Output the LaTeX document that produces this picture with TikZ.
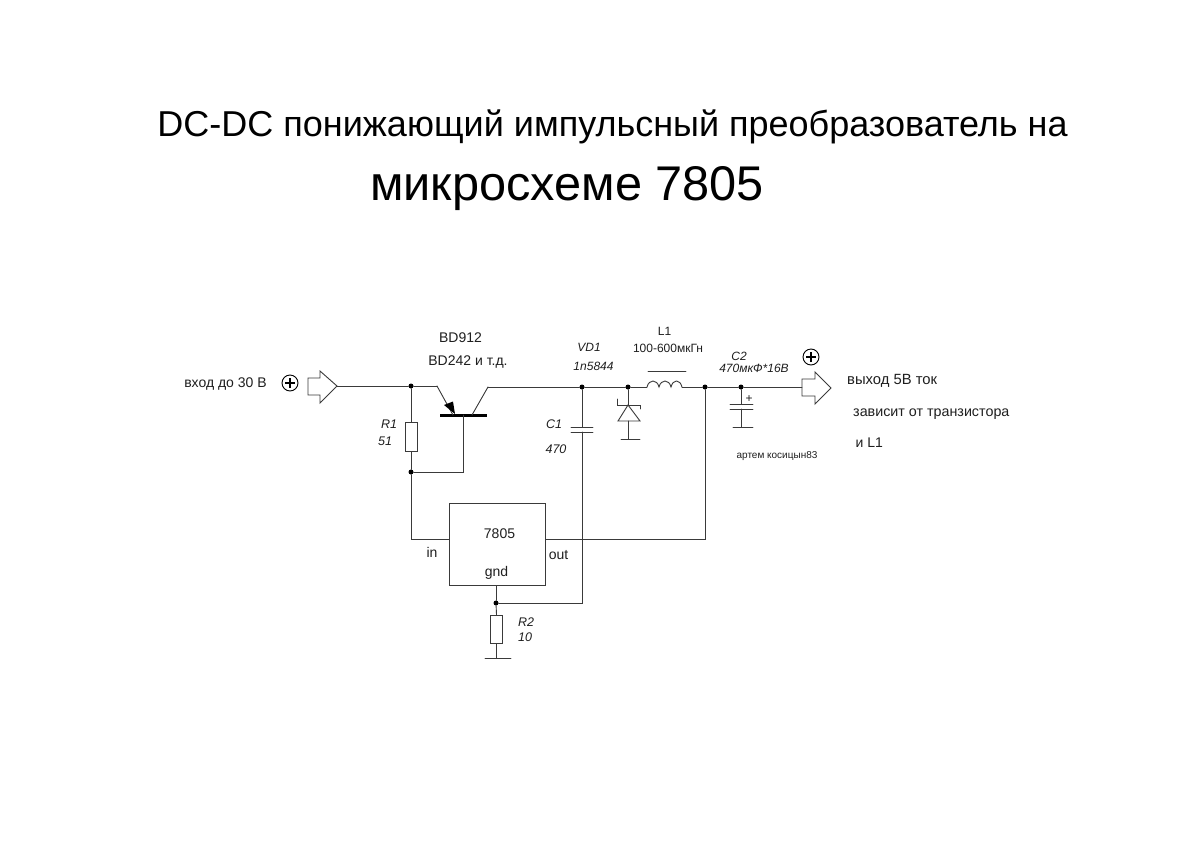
\documentclass[tikz,border=0pt]{standalone}
\usepackage{fontspec}
\setmainfont{Liberation Sans}
\definecolor{wirec}{HTML}{3A3A3A}
\tikzset{
  wire/.style={draw=wirec,line width=0.9pt,line cap=round,line join=miter},
  dotnode/.style={circle,fill=black,inner sep=0pt,minimum size=5pt},
  resbox/.style={draw=wirec,line width=0.9pt,minimum width=12pt,minimum height=29pt,inner sep=0pt,fill=white},
  icbox/.style={draw=wirec,line width=0.9pt,minimum width=96pt,minimum height=82pt,inner sep=0pt},
  plus/.style={circle,draw=black,line width=0.9pt,minimum size=16pt,inner sep=0pt,path picture={\draw[line width=1.3pt] (path picture bounding box.center) ++(-5pt,0) -- ++(10pt,0) (path picture bounding box.center) ++(0,-5pt) -- ++(0,10pt);}},
  lbl/.style={inner sep=0pt,font=\fontsize{14}{16}\selectfont,text=black!88},
  ilbl/.style={inner sep=0pt,font=\fontsize{12.5}{14}\selectfont\itshape,text=black!88},
  vlbl/.style={inner sep=0pt,font=\fontsize{12}{14}\selectfont\itshape,text=black!88},
  slbl/.style={inner sep=0pt,font=\fontsize{12}{14}\selectfont,text=black!88},
}
\begin{document}
\begin{tikzpicture}[x=1pt,y=-1pt]
\path[fill=white] (0,0) rectangle (1200,849);
\useasboundingbox (0,0) rectangle (1200,849);
% titles
\node[anchor=center,inner sep=0pt,font=\fontsize{36}{40}\selectfont] (t1) at (612.5,126.5) {DC-DC понижающий импульсный преобразователь на};
\node[anchor=center,inner sep=0pt,font=\fontsize{48.7}{54}\selectfont] (t2) at (567,188.5) {микросхеме 7805};
% junctions
\node[dotnode] (ja) at (411,386) {};
\node[dotnode] (jb) at (411,472) {};
\node[dotnode] (jc) at (582,387) {};
\node[dotnode] (jd) at (628,387) {};
\node[dotnode] (je) at (705,387) {};
\node[dotnode] (jf) at (741,387) {};
\node[dotnode] (jg) at (496,603) {};
% components
\node[resbox] (r1) at (411,436.5) {};
\node[resbox,minimum height=28pt] (r2) at (496.5,629) {};
\node[icbox] (ic) at (497,544) {};
\node[plus] (pin) at (290,383) {};
\node[plus] (pout) at (811,357) {};
% input arrow
\coordinate (intip) at (337,386);
\draw[wire] (intip) -- (320,371) -- (320,378) -- (308,378) -- (308,395) -- (320,395) -- (320,403) -- cycle;
% output arrow
\coordinate (outtail) at (802,387);
\draw[wire] (831,388) -- (815,372) -- (815,379) -- (802,379) -- (802,396) -- (815,396) -- (815,404) -- cycle;
% transistor
\coordinate (emi) at (437,386);
\coordinate (emb) at (453,415);
\coordinate (col) at (488,387);
\coordinate (colb) at (472,415);
\coordinate (base) at (463,415);
\coordinate (basel) at (440,415);
\coordinate (baser) at (487,415);
\draw[line width=3pt,black] (basel) -- (baser);
\draw[wire] (emi) -- (emb);
\fill[black] (455,414) -- (444,405) -- (453,401.5) -- cycle;
\draw[wire] (colb) -- (col);
\draw[wire] (intip) -- (ja);
\draw[wire] (ja) -- (emi);
\draw[wire] (ja) -- (r1.north);
\draw[wire] (r1.south) -- (jb);
\draw[wire] (base) |- (jb);
\draw[wire] (jb) |- (ic.west |- 0,539);
\draw[wire] (col) -- (jc);
\draw[wire] (jc) -- (jd);
% C1
\coordinate (c1a) at (582,427);
\coordinate (c1b) at (582,432);
\draw[wire] (jc) -- (c1a);
\draw[wire] (571,427) -- (593,427);
\draw[wire] (571,432) -- (593,432);
\draw[wire] (c1b) -- (582,603) -- (jg);
% diode
\coordinate (dk) at (628,405);
\coordinate (da) at (628,421);
\coordinate (dg) at (628,439);
\draw[wire] (jd) -- (dk);
\draw[wire] (617,399) -- (617,405) -- (640,405) -- (640,409);
\draw[wire] (dk) -- (618,421) -- (640,421) -- cycle;
\draw[wire] (da) -- (dg);
\draw[wire] (621,439) -- (640,439);
% inductor
\coordinate (la) at (647,387);
\coordinate (lb) at (682,387);
\draw[wire] (jd) -- (la);
\draw[wire] (la) .. controls (649,379) and (657,379) .. (659,387)
  .. controls (661,379) and (669,379) .. (671,387)
  .. controls (673,379) and (680,379) .. (lb);
\draw[wire] (lb) -- (je);
\draw[wire] (648,371) -- (686,371);
\draw[wire] (je) -- (jf);
\draw[wire] (jf) -- (outtail);
% C2
\coordinate (c2a) at (741,404);
\coordinate (c2b) at (741,409);
\coordinate (c2g) at (741,427);
\draw[wire] (jf) -- (c2a);
\draw[wire] (730,404) -- (753,404);
\draw[wire] (730,409) -- (753,409);
\draw[wire] (c2b) -- (c2g);
\draw[wire] (733,427) -- (753,427);
% out wire
\draw[wire] (ic.east |- 0,539) -| (je);
% gnd
\draw[wire] (ic.south -| jg) -- (jg);
\draw[wire] (jg) -- (r2.north);
\coordinate (gnd) at (496.5,658);
\draw[wire] (r2.south) -- (gnd);
\draw[wire] (485,658) -- (511,658);
% labels
\node[lbl] (l1) at (225.5,384) {вход до 30 В};
\node[lbl] (l2) at (460.5,338) {BD912};
\node[lbl] (l3) at (468,362) {BD242 и т.д.};
\node[ilbl] (l4) at (389,424) {R1};
\node[ilbl] (l5) at (385,441) {51};
\node[ilbl] (l6) at (554,424) {C1};
\node[ilbl] (l7) at (556,449) {470};
\node[vlbl] (l8) at (589,347.5) {VD1};
\node[vlbl] (l9) at (593.5,366) {1n5844};
\node[slbl] (l10) at (664.5,331) {L1};
\node[slbl] (l11) at (668,348) {100-600мкГн};
\node[vlbl] (l12) at (739,356) {C2};
\node[vlbl] (l13) at (754,368.5) {470мкФ*16В};
\node[slbl] (l14) at (749,399) {+};
\node[font=\fontsize{10}{12}\selectfont,inner sep=0pt,text=black!88] (l15) at (777,456) {артем косицын83};
\node[lbl,font=\fontsize{14.8}{16}\selectfont,anchor=west] (l16) at (847,381) {выход 5В ток};
\node[lbl,font=\fontsize{14.3}{16}\selectfont,anchor=west] (l17) at (853,414) {зависит от транзистора};
\node[lbl,anchor=west] (l18) at (855.5,443) {и L1};
\node[lbl] (l19) at (499.5,534) {7805};
\node[lbl] (l20) at (432,552.5) {in};
\node[lbl] (l21) at (558.5,555) {out};
\node[lbl] (l22) at (496.5,573) {gnd};
\node[ilbl] (l23) at (526,622) {R2};
\node[ilbl] (l24) at (525,637) {10};
\end{tikzpicture}
\end{document}
